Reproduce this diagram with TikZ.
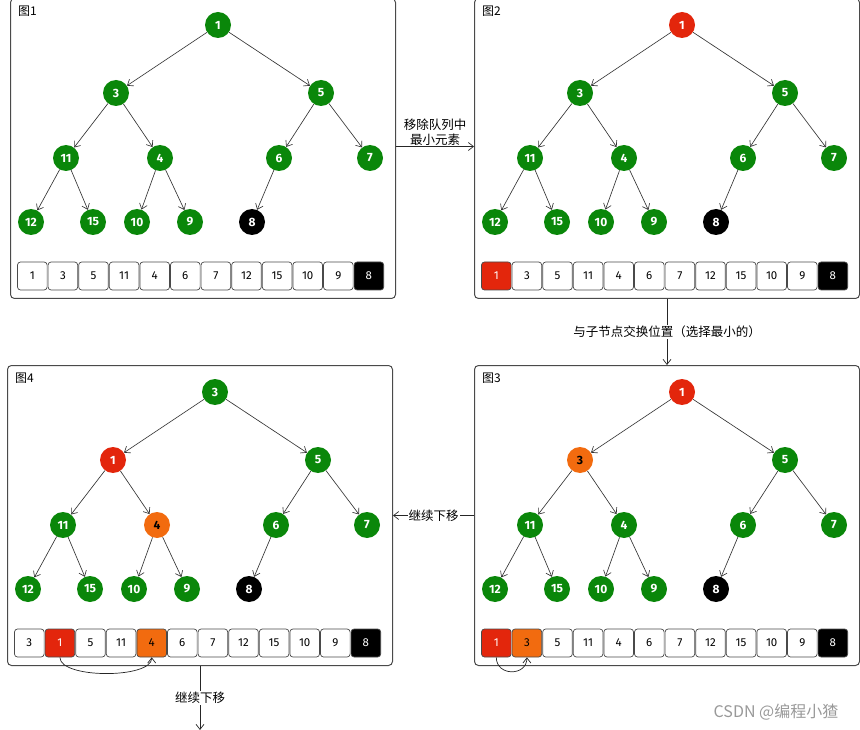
\documentclass[tikz,border=0pt]{standalone}
\usepackage{fontspec}
\setmainfont{Fira Sans}
\newfontfamily\cjk{Noto Sans CJK SC}
\usepackage{tikz}
\usetikzlibrary{arrows.meta,positioning}
\definecolor{hgreen}{HTML}{0A870A}
\definecolor{hred}{HTML}{E3260C}
\definecolor{horange}{HTML}{F26B0F}
\definecolor{frame}{HTML}{4A4A4A}
\tikzset{
  panel/.style={draw=frame,line width=1pt,rounded corners=4pt,anchor=north west,
                minimum width=385pt,minimum height=300pt,inner sep=0pt},
  ttl/.style={anchor=north west,inner sep=0pt,font=\cjk\fontsize{12}{14}\selectfont},
  gnode/.style={circle,fill=hgreen,text=white,minimum size=26pt,inner sep=0pt,
                font=\bfseries\fontsize{12}{14}\selectfont},
  rnode/.style={gnode,fill=hred},
  onode/.style={gnode,fill=horange,text=black},
  bnode/.style={gnode,fill=black},
  cell/.style={draw=frame,line width=0.7pt,rounded corners=3pt,minimum width=29.6pt,
               minimum height=28pt,inner sep=0pt,font=\fontsize{11.5}{13}\selectfont},
  wcell/.style={cell,fill=white},
  rcell/.style={cell,fill=hred,text=white},
  ocell/.style={cell,fill=horange},
  bcell/.style={cell,fill=black,text=white},
  edge/.style={-{Straight Barb[length=1.8mm,width=2.8mm]},draw=black!80,line width=0.65pt},
  sig/.style={-{Straight Barb[length=1.8mm,width=2.8mm]},draw=black!85,line width=0.7pt},
  lbl/.style={font=\cjk\fontsize{12.5}{14.5}\selectfont,fill=white,inner sep=1pt,align=center}
}
% one panel: #1 name, #2 shift, #3 title, #4 tree nodes, #5 array cells
\newcommand{\heapfig}[5]{%
  \begin{scope}[shift={#2}]
    \node[panel] (#1) at (0,0) {};
    \node[ttl] (#1t) at (8,-8) {#3};
    \foreach \k/\x/\y in {0/208/-27,1/106/-95,2/311/-95,3/56/-160,4/150/-160,5/269/-160,
                          6/360/-160,7/21/-224,8/83/-224,9/127/-224,10/180/-224,11/242/-224}
      \coordinate (#1p\k) at (\x,\y);
    \foreach \v/\s [count=\k from 0] in {#4}
      \node[style/.expanded=\s] (#1n\k) at (#1p\k) {\v};
    \foreach \a/\b in {0/1,0/2,1/3,1/4,2/5,2/6,3/7,3/8,4/9,4/10,5/11}
      \draw[edge] (#1n\a) -- (#1n\b);
    \foreach \v/\s [count=\i from 0] in {#5}
      \node[style/.expanded=\s] (#1c\i) at (22.3+30.6*\i,-278) {\v};
  \end{scope}}

\begin{document}
\begin{tikzpicture}[x=1pt,y=1pt]
  \useasboundingbox (0,0) rectangle (860,-730);
  % ---- four panels ----
  \heapfig{A}{(10,2)}{图1}
    {1/gnode,3/gnode,5/gnode,11/gnode,4/gnode,6/gnode,7/gnode,12/gnode,15/gnode,10/gnode,9/gnode,8/bnode}
    {1/wcell,3/wcell,5/wcell,11/wcell,4/wcell,6/wcell,7/wcell,12/wcell,15/wcell,10/wcell,9/wcell,8/bcell}
  \heapfig{B}{(474,2)}{图2}
    {1/rnode,3/gnode,5/gnode,11/gnode,4/gnode,6/gnode,7/gnode,12/gnode,15/gnode,10/gnode,9/gnode,8/bnode}
    {1/rcell,3/wcell,5/wcell,11/wcell,4/wcell,6/wcell,7/wcell,12/wcell,15/wcell,10/wcell,9/wcell,8/bcell}
  \heapfig{C}{(474,-365)}{图3}
    {1/rnode,3/onode,5/gnode,11/gnode,4/gnode,6/gnode,7/gnode,12/gnode,15/gnode,10/gnode,9/gnode,8/bnode}
    {1/rcell,3/ocell,5/wcell,11/wcell,4/wcell,6/wcell,7/wcell,12/wcell,15/wcell,10/wcell,9/wcell,8/bcell}
  \heapfig{D}{(7,-365)}{图4}
    {3/gnode,1/rnode,5/gnode,11/gnode,4/onode,6/gnode,7/gnode,12/gnode,15/gnode,10/gnode,9/gnode,8/bnode}
    {3/wcell,1/rcell,5/wcell,11/wcell,4/ocell,6/wcell,7/wcell,12/wcell,15/wcell,10/wcell,9/wcell,8/bcell}
  % ---- steps between panels ----
  \draw[sig] ([yshift=2pt]A.east) -- node[above,lbl,fill=none] {移除队列中\\最小元素} ([yshift=2pt]B.west);
  \draw[sig] (B.south) -- node[lbl] {与子节点交换位置（选择最小的）} (C.north);
  \draw[sig] (C.west) -- node[lbl] {继续下移} (D.east);
  \coordinate (next) at ([yshift=-64pt]D.south);
  \draw[sig] (D.south) -- node[lbl] {继续下移} (next);
  % ---- swaps in the array ----
  \draw[sig] (Cc0.south) to[out=-90,in=-90,looseness=1.6] (Cc1.south);
  \draw[sig] (Dc1.south) to[out=-90,in=-90,looseness=0.6] (Dc4.south);
  % ---- watermark ----
  \node[font=\cjk\fontsize{16}{18}\selectfont,text=black!40] (wm) at (776,-712) {CSDN @编程小猹};
\end{tikzpicture}
\end{document}
